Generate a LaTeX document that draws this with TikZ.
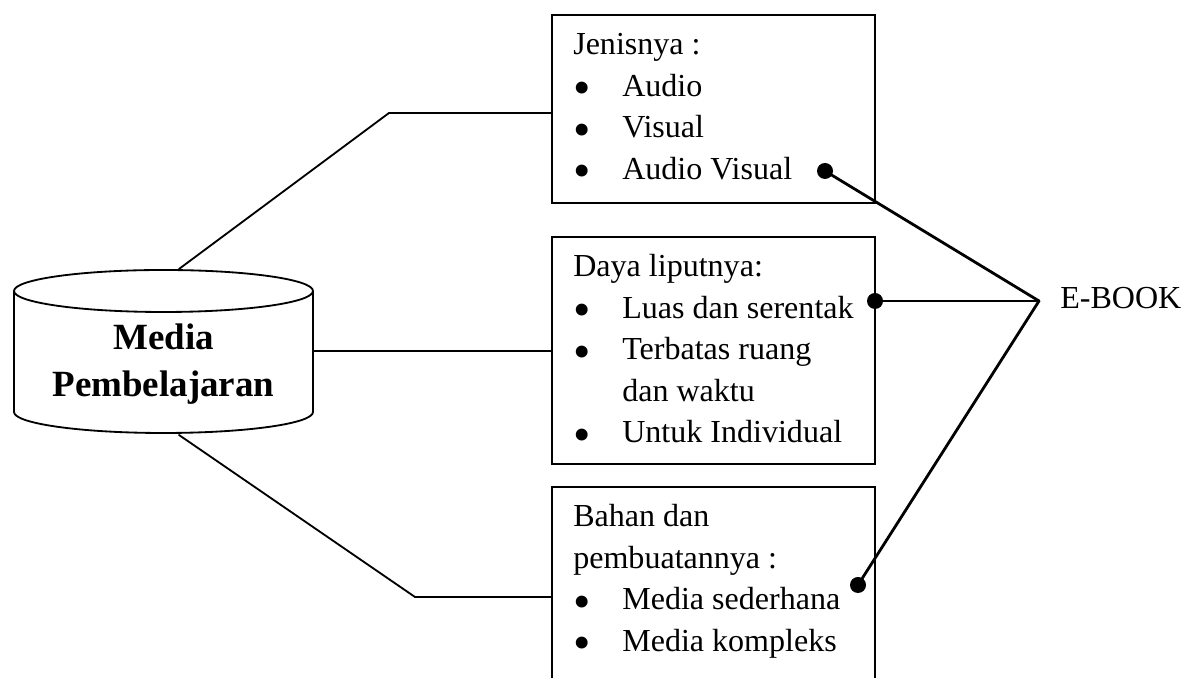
\documentclass[tikz,border=0pt]{standalone}
\usepackage{fontspec}
\setmainfont{Liberation Serif}
\usepackage{tkz-euclide}
\usepackage{amsmath}

\tikzset{
  garis/.style={line width=1.3pt},
  ebook/.style={line width=2pt},
  teks/.style={anchor=base west, inner sep=0pt, font=\fontsize{22.8}{29.5}\selectfont},
  judul/.style={anchor=base, inner sep=0pt, font=\bfseries\fontsize{26.3}{33.4}\selectfont},
}
\newcommand{\butir}{\makebox[1.225cm][l]{\raisebox{-0.26em}{\scalebox{1.55}{\textbullet}}}}

\begin{document}
\begin{tikzpicture}
\useasboundingbox (0,0) rectangle (29.575,16.95);

% definitions
\tkzDefPoint(4.0875,9.675){Ta} % centre of top ellipse
\tkzDefPoint(4.0875,6.65){Tb}  % centre of bottom ellipse
\tkzDefPoint(0.35,9.675){Tc}
\tkzDefPoint(0.35,6.65){Td}
\tkzDefPoint(7.825,9.675){Te}
\tkzDefPoint(4.475,10.225){A}
\tkzDefPoint(9.725,14.125){B}
\tkzDefPoint(13.8,14.125){C}
\tkzDefPoint(7.825,8.175){D}
\tkzDefPoint(13.8,8.175){E}
\tkzDefPoint(4.475,6.075){F}
\tkzDefPoint(10.375,2.025){G}
\tkzDefPoint(13.8,2.025){H}
\tkzDefPoint(25.975,9.425){K}   % where the E-BOOK lines meet
\tkzDefPoint(20.625,12.675){AV} % dot after Audio Visual
\tkzDefPoint(21.875,9.425){LS}  % dot after Luas dan serentak
\tkzDefPoint(21.45,2.325){MS}   % dot after Media sederhana

% drawing
\draw[garis] (Tc) -- (Td) arc[x radius=3.7375, y radius=0.525, start angle=180, end angle=360] -- (Te);
\draw[garis] (Ta) ellipse[x radius=3.7375, y radius=0.525];

\draw[garis] (13.8,16.575) rectangle (21.875,11.875);
\draw[garis] (13.8,11.025) rectangle (21.875,5.35);
\draw[garis] (13.8,0) -- (13.8,4.775) -- (21.875,4.775) -- (21.875,0);

\tkzDrawPolySeg[garis](A,B,C)
\tkzDrawSegments[garis](D,E)
\tkzDrawPolySeg[garis](F,G,H)

\tkzDrawSegments[ebook](AV,K LS,K MS,K)
\fill (AV) circle (0.2);
\fill (LS) circle (0.2);
\fill (MS) circle (0.2);

% labels
\node[judul] (media) at (4.0875,8.2) {\begin{tabular}[t]{@{}c@{}}Media\\Pembelajaran\end{tabular}};
\node[teks] (jenis) at (14.325,15.575) {\begin{tabular}[t]{@{}l@{}}Jenisnya :\\ \butir Audio\\ \butir Visual\\ \butir Audio Visual\end{tabular}};
\node[teks] (daya) at (14.325,10.025) {\begin{tabular}[t]{@{}l@{}}Daya liputnya:\\ \butir Luas dan serentak\\ \butir Terbatas ruang\\ \hspace*{1.225cm}dan waktu\\ \butir Untuk Individual\end{tabular}};
\node[teks] (bahan) at (14.325,3.775) {\begin{tabular}[t]{@{}l@{}}Bahan dan\\ pembuatannya :\\ \butir Media sederhana\\ \butir Media kompleks\end{tabular}};
\node[teks] (ebooklabel) at (26.5,9.225) {E-BOOK};
\end{tikzpicture}
\end{document}
